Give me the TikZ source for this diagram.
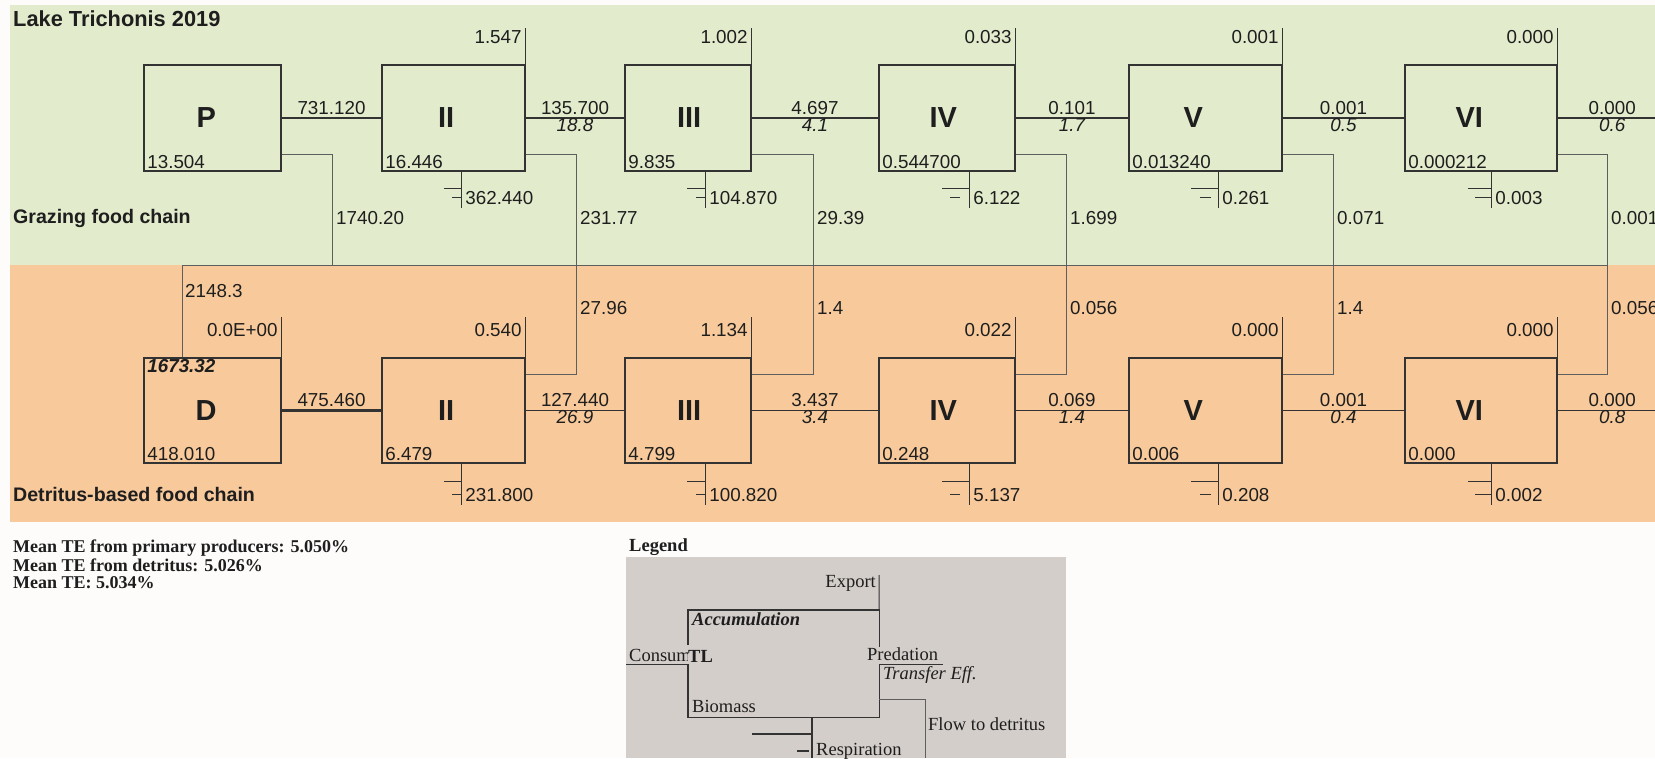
\documentclass[tikz,border=0pt]{standalone}
\usepackage{fontspec}
\setmainfont{Liberation Sans}
\newfontfamily\seriffont{Liberation Serif}
\definecolor{grn}{HTML}{E2ECCC}
\definecolor{org}{HTML}{F8CA9B}
\definecolor{lgray}{HTML}{D3CECA}
\definecolor{bgw}{HTML}{FDFCFB}
\definecolor{ink}{HTML}{1E1E1E}
\definecolor{boxc}{HTML}{333333}
\definecolor{detc}{HTML}{5E5E5E}
\tikzset{
  num/.style={font=\fontsize{18.8}{20}\selectfont, text=ink, inner sep=1pt},
  numit/.style={font=\fontsize{18.8}{20}\selectfont\itshape, text=ink, inner sep=1pt},
  numbi/.style={font=\fontsize{18.8}{20}\selectfont\bfseries\itshape, text=ink, inner sep=1pt},
  ttl/.style={font=\fontsize{21.8}{24}\selectfont\bfseries, text=ink, inner sep=0pt},
  sec/.style={font=\fontsize{19.6}{22}\selectfont\bfseries, text=ink, inner sep=0pt},
  tl/.style={draw=boxc, line width=1.6pt, inner sep=0pt},
  tllet/.style={font=\fontsize{29}{31}\selectfont\bfseries, text=ink, inner sep=0pt},
  flowln/.style={draw=boxc, line width=#1},
  expln/.style={draw=boxc, line width=1pt},
  resln/.style={draw=boxc, line width=1.2pt},
  detln/.style={draw=detc, line width=0.9pt},
  boxln/.style={draw=boxc, line width=1.4pt},
  lg/.style={font=\seriffont\fontsize{18.5}{20}\selectfont, text=ink, inner sep=0pt},
  lgb/.style={font=\seriffont\fontsize{18.5}{20}\selectfont\bfseries, text=ink, inner sep=0pt},
  teb/.style={font=\seriffont\fontsize{18}{20}\selectfont\bfseries, text=ink, inner sep=0pt},
  lgi/.style={font=\seriffont\fontsize{18.5}{20}\selectfont\itshape, text=ink, inner sep=0pt},
  lgbi/.style={font=\seriffont\fontsize{18.5}{20}\selectfont\bfseries\itshape, text=ink, inner sep=0pt},
}
\newcommand{\TLbox}[8]{%
  \node[tl, minimum width=#4pt, minimum height=#5pt] (#1) at (#2,#3) {};
  \node[tllet] (#1-let) at ([xshift=65pt]#1.west) {#6};
  \node[num, anchor=west] (#1-bio) at ([xshift=3pt,yshift=10pt]#1.south west) {#7};
  \coordinate (#1-ex) at ([yshift=\ev pt]#1.north east);
  \draw[expln] (#1.north east) -- (#1-ex);
  \node[num, anchor=east] (#1-exl) at ([xshift=-3pt,yshift=27pt]#1.north east) {#8};
}
\newcommand{\Resp}[6]{%
  \coordinate (#1-r0) at ([xshift=#2pt]#1.south west);
  \coordinate (#1-r1) at ([yshift=-\rv pt]#1-r0);
  \coordinate (#1-ra) at ([yshift=-\rl pt]#1-r0);
  \coordinate (#1-rb) at ([yshift=-\rs pt]#1-r0);
  \draw[resln] (#1-r0) -- (#1-r1);
  \draw[resln] ([xshift=-#3pt]#1-ra) -- (#1-ra);
  \draw[resln] ([xshift=-#4pt]#1-rb) -- ([xshift=-#5pt]#1-rb);
  \node[num, anchor=west] (#1-rl) at ([xshift=3pt]#1-rb) {#6};
}
\begin{document}
\begin{tikzpicture}[x=1pt,y=-1pt]
\useasboundingbox (0,0) rectangle (1655,758);
\fill[bgw] (0,0) rectangle (1655,758);
\fill[grn] (10,5) rectangle (1655,265);
\fill[org] (10,265) rectangle (1655,522);
\fill[lgray] (626,557) rectangle (1066,758);

\node[ttl, anchor=west] (title) at (13,19) {Lake Trichonis 2019};
\node[sec, anchor=west] (graz) at (13,218) {Grazing food chain};
\node[sec, anchor=west] (detr) at (13,494) {Detritus-based food chain};

% ---------- upper row (grazing)
\def\ev{36}\def\rv{36}\def\rl{17}\def\rs{26}
\node[tl, minimum width=137pt, minimum height=106pt] (gP) at (212.5,118) {};
\node[tllet] (gP-let) at ([xshift=63pt]gP.west) {P};
\node[num, anchor=west] (gP-bio) at ([xshift=3pt,yshift=10pt]gP.south west) {13.504};
\TLbox{g2}{453.5}{118}{143}{106}{II}{16.446}{1.547}
\TLbox{g3}{688}{118}{126}{106}{III}{9.835}{1.002}
\TLbox{g4}{947}{118}{136}{106}{IV}{0.544700}{0.033}
\TLbox{g5}{1205.5}{118}{153}{106}{V}{0.013240}{0.001}
\TLbox{g6}{1481}{118}{152}{106}{VI}{0.000212}{0.000}
\Resp{g2}{80}{17}{9}{0}{362.440}
\Resp{g3}{81}{18}{9}{0}{104.870}
\Resp{g4}{91}{27}{19}{9}{6.122}
\Resp{g5}{90}{27}{18}{7}{0.261}
\Resp{g6}{87}{23}{16}{0}{0.003}
\coordinate (g-out) at (1655,118);
\draw[flowln=2.2pt] (gP) -- (g2) node[num, midway, yshift=10pt] (fP2) {731.120};
\draw[flowln=1.9pt] (g2) -- (g3) node[num, midway, yshift=10pt] (fg23) {135.700} node[numit, midway, yshift=-7pt] (tg23) {18.8};
\draw[flowln=1.5pt] (g3) -- (g4) node[num, midway, yshift=10pt] (fg34) {4.697} node[numit, midway, yshift=-7pt] (tg34) {4.1};
\draw[flowln=1.3pt] (g4) -- (g5) node[num, midway, yshift=10pt] (fg45) {0.101} node[numit, midway, yshift=-7pt] (tg45) {1.7};
\draw[flowln=1.1pt] (g5) -- (g6) node[num, midway, yshift=10pt] (fg56) {0.001} node[numit, midway, yshift=-7pt] (tg56) {0.5};
\draw[flowln=1.1pt] (g6) -- (g-out) node[num, pos=0.56, yshift=10pt] (fg6o) {0.000} node[numit, pos=0.56, yshift=-7pt] (tg6o) {0.6};

% ---------- lower row (detritus)
\def\ev{40}\def\rv{41}\def\rl{18}\def\rs{31}
\node[tl, minimum width=137pt, minimum height=105pt] (dD) at (212.5,410.5) {};
\node[tllet] (dD-let) at ([xshift=63pt]dD.west) {D};
\node[num, anchor=west] (dD-bio) at ([xshift=3pt,yshift=10pt]dD.south west) {418.010};
\coordinate (dD-ex) at ([yshift=40pt]dD.north east);
\draw[expln] (dD.north east) -- (dD-ex);
\node[num, anchor=east] (dD-exl) at ([xshift=-3pt,yshift=27pt]dD.north east) {0.0E+00};
\node[numbi, anchor=west] (dD-acc) at ([xshift=3pt,yshift=-9pt]dD.north west) {1673.32};
\TLbox{d2}{453.5}{410.5}{143}{105}{II}{6.479}{0.540}
\TLbox{d3}{688}{410.5}{126}{105}{III}{4.799}{1.134}
\TLbox{d4}{947}{410.5}{136}{105}{IV}{0.248}{0.022}
\TLbox{d5}{1205.5}{410.5}{153}{105}{V}{0.006}{0.000}
\TLbox{d6}{1481}{410.5}{152}{105}{VI}{0.000}{0.000}
\Resp{d2}{80}{17}{9}{0}{231.800}
\Resp{d3}{81}{18}{9}{0}{100.820}
\Resp{d4}{91}{27}{19}{9}{5.137}
\Resp{d5}{90}{27}{18}{7}{0.208}
\Resp{d6}{87}{23}{16}{0}{0.002}
\coordinate (d-out) at (1655,410.5);
\draw[flowln=2.2pt] (dD) -- (d2) node[num, midway, yshift=10pt] (fD2) {475.460};
\draw[flowln=1.9pt] (d2) -- (d3) node[num, midway, yshift=10pt] (fd23) {127.440} node[numit, midway, yshift=-7pt] (td23) {26.9};
\draw[flowln=1.5pt] (d3) -- (d4) node[num, midway, yshift=10pt] (fd34) {3.437} node[numit, midway, yshift=-7pt] (td34) {3.4};
\draw[flowln=1.3pt] (d4) -- (d5) node[num, midway, yshift=10pt] (fd45) {0.069} node[numit, midway, yshift=-7pt] (td45) {1.4};
\draw[flowln=1.1pt] (d5) -- (d6) node[num, midway, yshift=10pt] (fd56) {0.001} node[numit, midway, yshift=-7pt] (td56) {0.4};
\draw[flowln=1.1pt] (d6) -- (d-out) node[num, pos=0.56, yshift=10pt] (fd6o) {0.000} node[numit, pos=0.56, yshift=-7pt] (td6o) {0.8};

% ---------- flows to detritus
\coordinate (busD) at (182,265);
\coordinate (bus1) at (332,265);
\coordinate (bus2) at (576,265);
\coordinate (bus3) at (813,265);
\coordinate (bus4) at (1066,265);
\coordinate (bus5) at (1333,265);
\coordinate (bus6) at (1607,265);
\draw[detln] (busD) -- (bus6);
\draw[detln] (busD) -- (busD |- dD.north);
\node[num, anchor=west] (inD) at (184,291) {2148.3};
\draw[detln] ([yshift=17pt]gP.south east) -| (bus1);
\node[num, anchor=west] (dgP) at (335,218) {1740.20};
\foreach \i/\gv/\dv in {2/231.77/27.96, 3/29.39/1.4, 4/1.699/0.056, 5/0.071/1.4, 6/0.001/0.056}{
  \draw[detln] ([yshift=17pt]g\i.south east) -| (bus\i);
  \draw[detln] ([yshift=-17pt]d\i.north east) -| (bus\i);
  \node[num, anchor=west] (dg\i) at ([xshift=3pt,yshift=47pt]bus\i) {\gv};
  \node[num, anchor=west] (dd\i) at ([xshift=3pt,yshift=-43pt]bus\i) {\dv};
}

% ---------- mean TE
\node[teb, anchor=west] (te1) at (13,548) {Mean TE from primary producers: 5.050\%};
\node[teb, anchor=west] (te2) at (13,565.5) {Mean TE from detritus: 5.026\%};
\node[teb, anchor=west] (te3) at (13,583) {Mean TE: 5.034\%};

% ---------- legend
\node[lgb, anchor=west] (lgt) at (629,547) {Legend};
\node[minimum width=191pt, minimum height=107pt, inner sep=0pt] (lgbox) at (783.5,663.5) {};
\draw[boxln] ([yshift=-35pt]lgbox.north west) -- (lgbox.north west) -- (lgbox.north east) -- ([yshift=-37pt]lgbox.north east);
\draw[boxln] ([yshift=-54pt]lgbox.north west) -- (lgbox.south west) -- (lgbox.south east) -- ([yshift=-54pt]lgbox.north east);
\coordinate (lgex) at (879,575);
\draw[expln] (lgbox.north east) -- (lgex);
\coordinate (lgc) at (626,664);
\draw[expln] (lgc) -- (lgc -| lgbox.west);
\coordinate (lgp) at (943,664);
\draw[expln] (lgp -| lgbox.east) -- (lgp);
\coordinate (lgd) at (925,758);
\draw[detln] ([yshift=18pt]lgbox.south east) -| (lgd);
\coordinate (lgr0) at (812,717);
\coordinate (lgr1) at (812,758);
\draw[resln] (lgr0) -- (lgr1);
\draw[resln] (752,734) -- (lgr0 |- 0,734);
\draw[resln] (797,751) -- (809,751);
\node[lg, anchor=east] (lgexl) at (876,583) {Export};
\node[lgbi, anchor=west] (lgacc) at (692,619) {Accumulation};
\node[lg, anchor=west] (lgcon) at (629,655) {Consum};
\node[lgb, anchor=west, fill=lgray] (lgtl) at (688,656) {TL};
\node[lg, anchor=west] (lgpred) at (867,654) {Predation};
\node[lgi, anchor=west] (lgte) at (883,675) {Transfer Eff.};
\node[lg, anchor=west] (lgbio) at (692,706) {Biomass};
\node[lg, anchor=west] (lgfd) at (928,724) {Flow to detritus};
\node[lg, anchor=west] (lgresp) at (816,751) {Respiration};
\end{tikzpicture}
\end{document}
